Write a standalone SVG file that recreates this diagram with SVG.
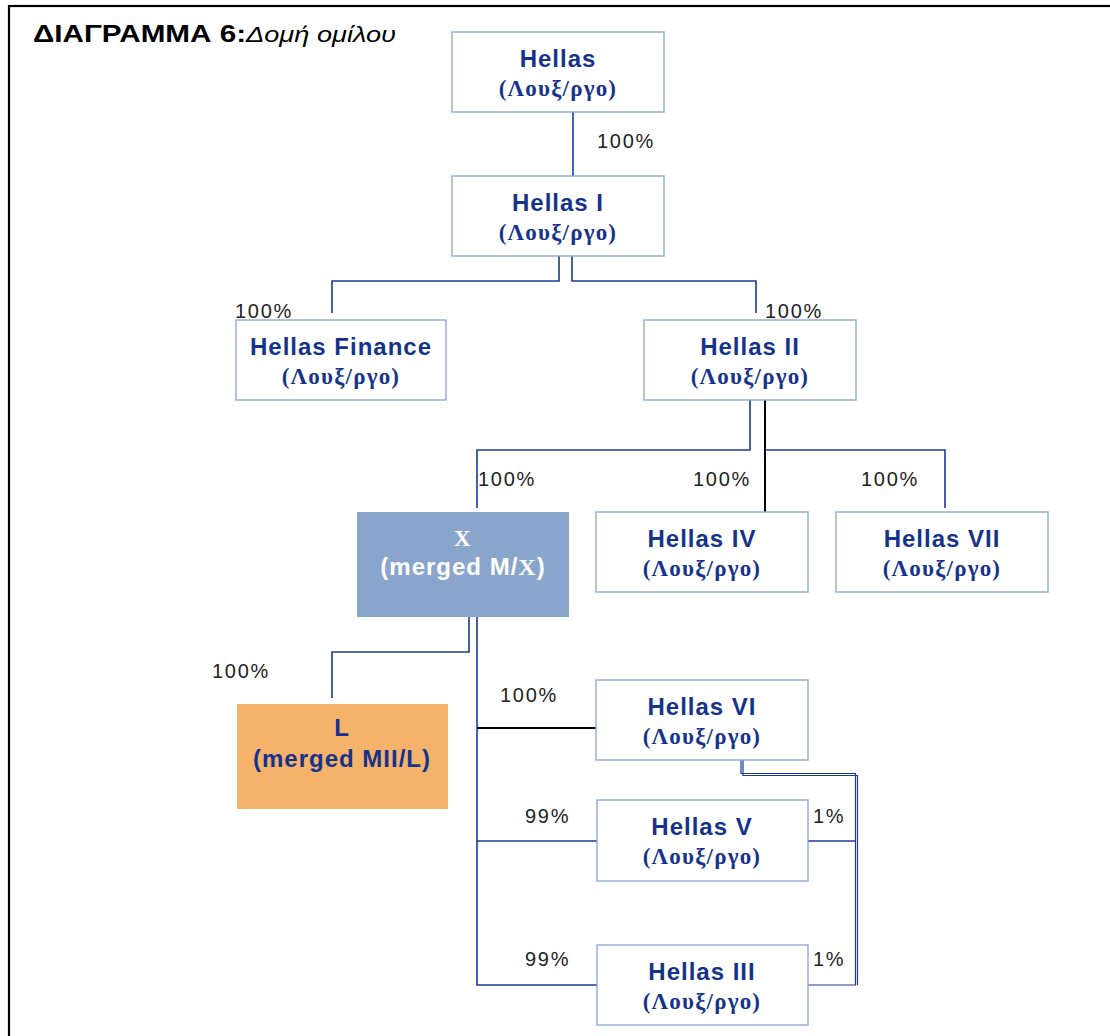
<svg xmlns="http://www.w3.org/2000/svg" width="1110" height="1036" viewBox="0 0 1110 1036">
<style>
.box{fill:#ffffff;stroke:#86a2d6;stroke-width:1.3}
.n1{font-family:"Liberation Sans",Arial,sans-serif;font-weight:bold;font-size:24px;fill:#16338c;text-anchor:middle;letter-spacing:1px}
.n2{font-family:"Liberation Serif","Times New Roman",serif;font-weight:bold;font-size:23px;fill:#16338c;text-anchor:middle;letter-spacing:1.2px}
.pct{font-family:"Liberation Sans",Arial,sans-serif;font-size:20px;fill:#222;letter-spacing:1.7px}
.c{fill:none;stroke:#1c3a94;stroke-width:1.6}
.d{fill:none;stroke:#1c3a94;stroke-width:1.2}
.k{fill:none;stroke:#000;stroke-width:2}
</style>
<rect x="0" y="0" width="1110" height="1036" fill="#ffffff"/>
<rect x="9" y="6" width="1110" height="1040" fill="none" stroke="#000" stroke-width="2.2"/>
<text x="33" y="42" font-family="Liberation Sans,Arial,sans-serif" font-size="23" fill="#000"><tspan font-weight="bold" textLength="213" lengthAdjust="spacingAndGlyphs">ΔΙΑΓΡΑΜΜΑ 6:</tspan><tspan font-style="italic" textLength="150" lengthAdjust="spacingAndGlyphs">Δομή ομίλου</tspan></text>

<g id="connectors">
<path class="c" d="M573 112V176"/>
<path class="c" d="M559 256V281H332V313"/>
<path class="c" d="M572 256V281H756V313"/>
<path class="c" d="M750 392V450H477V508"/>
<path class="k" d="M765 392V512"/>
<path class="c" d="M765 450H945V508"/>
<path class="c" d="M469 608V652H332V698"/>
<path class="c" d="M477 608V985H597"/>
<path class="k" d="M477 728H596"/>
<path class="c" d="M477 841H597"/>
<path class="d" d="M741 752V773.5H855.5V985H808"/>
<path class="d" d="M743 760V775.5H857.5V985"/>
<path class="c" d="M808 841H855"/>
</g>

<g id="labels">
<text class="pct" x="597" y="148">100%</text>
<text class="pct" x="235" y="318">100%</text>
<text class="pct" x="765" y="318">100%</text>
<text class="pct" x="478" y="486">100%</text>
<text class="pct" x="693" y="486">100%</text>
<text class="pct" x="861" y="486">100%</text>
<text class="pct" x="212" y="678">100%</text>
<text class="pct" x="500" y="702">100%</text>
<text class="pct" x="525" y="823">99%</text>
<text class="pct" x="813" y="823">1%</text>
<text class="pct" x="525" y="966">99%</text>
<text class="pct" x="813" y="966">1%</text>
</g>

<g id="hellas">
<rect class="box" x="452" y="32" width="212" height="80"/>
<text class="n1" x="558" y="67">Hellas</text>
<text class="n2" x="558" y="96">(Λουξ/ργο)</text>
</g>
<g id="hellas1">
<rect class="box" x="452" y="176" width="212" height="80"/>
<text class="n1" x="558" y="211">Hellas I</text>
<text class="n2" x="558" y="240">(Λουξ/ργο)</text>
</g>
<g id="hellasfinance">
<rect class="box" x="236" y="320" width="210" height="80"/>
<text class="n1" x="341" y="355">Hellas Finance</text>
<text class="n2" x="341" y="384">(Λουξ/ργο)</text>
</g>
<g id="hellas2">
<rect class="box" x="644" y="320" width="212" height="80"/>
<text class="n1" x="750" y="355">Hellas II</text>
<text class="n2" x="750" y="384">(Λουξ/ργο)</text>
</g>
<g id="x">
<rect x="357" y="512" width="212" height="105" fill="#8aa5cc"/>
<text class="n2" x="463" y="546" style="fill:#fff">X</text>
<text class="n1" x="463" y="575" style="fill:#fff">(merged M/<tspan font-family="Liberation Serif,serif">X</tspan>)</text>
</g>
<g id="hellas4">
<rect class="box" x="596" y="512" width="212" height="80"/>
<text class="n1" x="702" y="547">Hellas IV</text>
<text class="n2" x="702" y="576">(Λουξ/ργο)</text>
</g>
<g id="hellas7">
<rect class="box" x="836" y="512" width="212" height="80"/>
<text class="n1" x="942" y="547">Hellas VII</text>
<text class="n2" x="942" y="576">(Λουξ/ργο)</text>
</g>
<g id="l">
<rect x="237" y="704" width="211" height="105" fill="#f4b26a"/>
<text class="n1" x="342" y="736">L</text>
<text class="n1" x="342" y="767">(merged MII/L)</text>
</g>
<g id="hellas6">
<rect class="box" x="596" y="680" width="212" height="80"/>
<text class="n1" x="702" y="715">Hellas VI</text>
<text class="n2" x="702" y="744">(Λουξ/ργο)</text>
</g>
<g id="hellas5">
<rect class="box" x="597" y="800" width="211" height="81"/>
<text class="n1" x="702" y="835">Hellas V</text>
<text class="n2" x="702" y="864">(Λουξ/ργο)</text>
</g>
<g id="hellas3">
<rect class="box" x="597" y="945" width="211" height="80"/>
<text class="n1" x="702" y="980">Hellas III</text>
<text class="n2" x="702" y="1009">(Λουξ/ργο)</text>
</g>
</svg>
